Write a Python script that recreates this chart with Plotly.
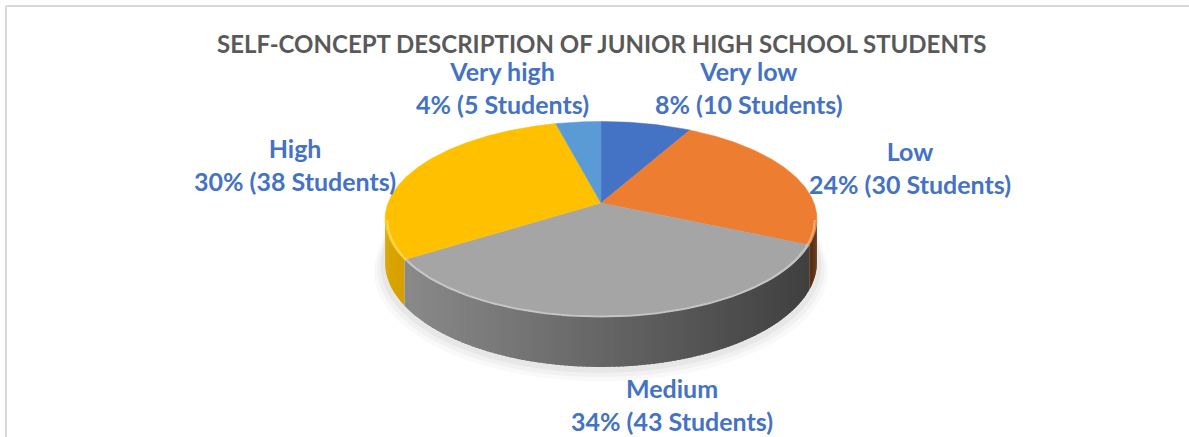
import numpy as np
import plotly.graph_objects as go

categories = ["Very low", "Low", "Medium", "High", "Very high"]
students = [10, 30, 43, 38, 5]
colors = ["#4472C4", "#ED7D31", "#A5A5A5", "#FFC000", "#5B9BD5"]
title_text = "SELF-CONCEPT DESCRIPTION OF JUNIOR HIGH SCHOOL STUDENTS"

W, H = 1189, 437
# projection of a tilted disk (pixel space)
CX, CY = 601, 203
FR = 213.0
FA = 95.1
K = 0.1655
T = 41.7


def hex_rgb(h):
    h = h.lstrip("#")
    return tuple(int(h[i:i + 2], 16) for i in (0, 2, 4))


def proj(theta_deg, r=1.0):
    th = np.radians(theta_deg)
    c = r * np.cos(th)
    s = r * np.sin(th)
    den = 1 + K * c
    return CX + FR * s / den, CY - FA * c / den


def drop(theta_deg, r=1.0):
    th = np.radians(theta_deg)
    return T / (1 + K * r * np.cos(th))


total = sum(students)
angles = np.cumsum([0] + [v / total * 360 for v in students])

fig = go.Figure()

# soft shadow under the pie
for rr, extra, alpha in [(1.05, 7, 0.025), (1.035, 5, 0.03), (1.02, 3, 0.04)]:
    th = np.linspace(95, 265, 120)
    xs, ys = proj(th, rr)
    ys = ys + drop(th, rr) + extra
    xt, yt = proj(th[::-1], 0.97)
    fig.add_trace(go.Scatter(x=np.r_[xs, xt], y=np.r_[ys, yt], fill="toself",
                             fillcolor=f"rgba(0,0,0,{alpha})", mode="none",
                             hoverinfo="skip", showlegend=False))

# visible side walls
vis0 = np.degrees(np.arccos(-K))
vis1 = 360 - vis0
for i, (a0, a1) in enumerate(zip(angles[:-1], angles[1:])):
    lo, hi = max(a0, vis0), min(a1, vis1)
    if hi <= lo:
        continue
    n = max(2, int((hi - lo) / 1.0) + 1)
    edges = np.linspace(lo, hi, n)
    step = edges[1] - edges[0]
    base = hex_rgb(colors[i])
    for e0, e1 in zip(edges[:-1], edges[1:]):
        e1x = min(hi, e1 + 0.6 * step)
        th = np.array([e0, e1x])
        xs, ys = proj(th)
        yb = ys + drop(th)
        xm = (proj((e0 + e1) / 2)[0] - CX) / 216.0
        f = 0.62 - 0.24 * xm
        col = "rgb({},{},{})".format(*[int(max(0, min(255, c * f))) for c in base])
        fig.add_trace(go.Scatter(x=[xs[0], xs[1], xs[1], xs[0]],
                                 y=[ys[0], ys[1], yb[1], yb[0]],
                                 fill="toself", fillcolor=col, mode="none",
                                 hoverinfo="skip", showlegend=False))

# top face slices
for i, (a0, a1) in enumerate(zip(angles[:-1], angles[1:])):
    th = np.linspace(a0, a1, max(3, int((a1 - a0) / 0.5)))
    xs, ys = proj(th)
    fig.add_trace(go.Scatter(x=np.r_[CX, xs, CX], y=np.r_[CY, ys, CY],
                             fill="toself", fillcolor=colors[i], mode="lines",
                             line=dict(color=colors[i], width=0.5),
                             name=categories[i], hoverinfo="skip", showlegend=False))

# bevel highlight along the front rim
th = np.linspace(vis0, vis1, 200)
xs, ys = proj(th, 0.99)
fig.add_trace(go.Scatter(x=xs, y=ys + 1, mode="lines",
                         line=dict(color="rgba(255,255,255,0.35)", width=2),
                         hoverinfo="skip", showlegend=False))

# data labels
label_pos = [(749, 87), (910, 167), (672, 404), (295, 164), (502, 87)]
for cat, n, (lx, ly) in zip(categories, students, label_pos):
    pct = round(n / total * 100)
    fig.add_annotation(x=lx, y=ly, xref="x", yref="y", showarrow=False,
                       text=f"<b>{cat}<br>{pct}% ({n} Students)</b>",
                       font=dict(family="Lato, Open Sans, sans-serif", size=25, color="#4472C4"),
                       align="center")

fig.add_annotation(x=601, y=43, xref="x", yref="y", showarrow=False,
                   text=f"<b>{title_text}</b>",
                   font=dict(family="Lato, Open Sans, sans-serif", size=24, color="#595959"))

# chart frame
fig.add_shape(type="line", xref="paper", yref="paper", x0=6 / W, x1=1, y0=1 - 6 / H, y1=1 - 6 / H,
              line=dict(color="#D9D9D9", width=2))
fig.add_shape(type="line", xref="paper", yref="paper", x0=6 / W, x1=6 / W, y0=0, y1=1 - 6 / H,
              line=dict(color="#D9D9D9", width=2))

fig.update_layout(
    width=W, height=H,
    margin=dict(l=0, r=0, t=0, b=0),
    paper_bgcolor="white", plot_bgcolor="white",
    xaxis=dict(range=[0, W], visible=False, fixedrange=True),
    yaxis=dict(range=[H, 0], visible=False, fixedrange=True),
    showlegend=False,
)

fig.write_html("out.html", config={"displayModeBar": False},
               post_script="document.body.style.margin='0';document.body.style.overflow='hidden';")
